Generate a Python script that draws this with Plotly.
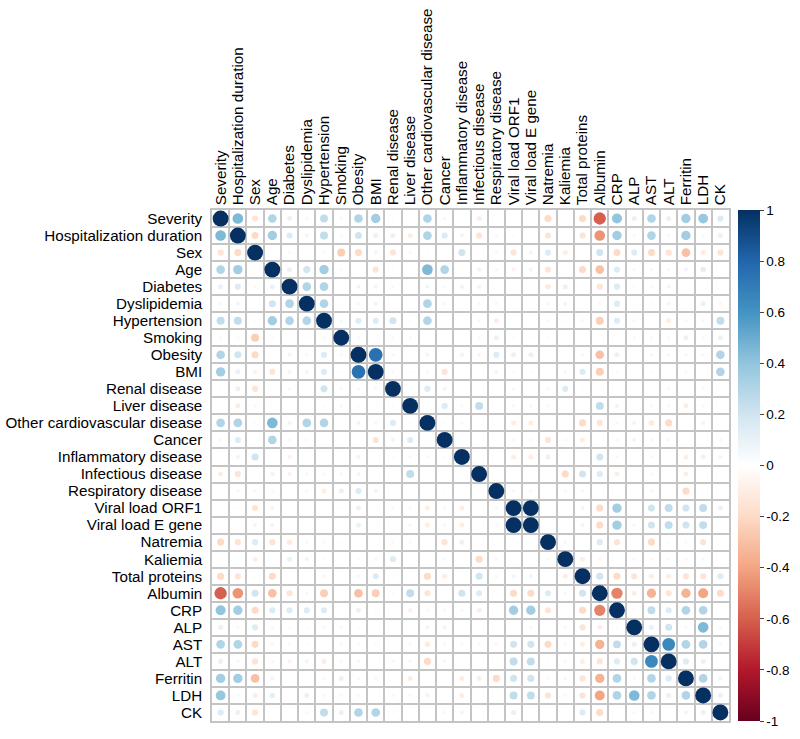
import numpy as np
import plotly.graph_objects as go

labels = ["Severity", "Hospitalization duration", "Sex", "Age", "Diabetes", "Dyslipidemia",
          "Hypertension", "Smoking", "Obesity", "BMI", "Renal disease", "Liver disease",
          "Other cardiovascular disease", "Cancer", "Inflammatory disease", "Infectious disease",
          "Respiratory disease", "Viral load ORF1", "Viral load E gene", "Natremia", "Kaliemia",
          "Total proteins", "Albumin", "CRP", "ALP", "AST", "ALT", "Ferritin", "LDH", "CK"]

# lower triangle of the correlation matrix (row i holds correlations with columns 0..i)
severity = [1.0]
hospitalization = [0.45, 1.0]
sex = [-0.15, -0.2, 1.0]
age = [0.3, 0.35, -0.02, 1.0]
diabetes = [0.1, 0.15, -0.05, 0.1, 1.0]
dyslipidemia = [0.05, 0.07, 0.0, 0.2, 0.3, 1.0]
hypertension = [0.25, 0.25, -0.04, 0.35, 0.3, 0.3, 1.0]
smoking = [0.05, 0.04, -0.25, -0.04, 0.02, 0.03, 0.05, 1.0]
obesity = [0.3, 0.2, -0.2, 0.02, 0.07, 0.05, 0.15, 0.05, 1.0]
bmi = [0.35, 0.1, -0.07, -0.15, 0.07, 0.07, 0.15, 0.03, 0.75, 1.0]
renal = [0.03, 0.1, -0.15, 0.03, 0.05, 0.0, 0.2, 0.05, 0.05, -0.05, 1.0]
liver = [0.02, -0.1, 0.05, 0.03, 0.0, 0.02, 0.03, 0.05, 0.03, 0.03, 0.03, 1.0]
other_cv = [0.3, 0.3, -0.03, 0.45, 0.07, 0.3, 0.3, 0.02, 0.07, 0.05, 0.15, -0.03, 1.0]
cancer = [0.05, 0.15, 0.0, 0.3, -0.05, 0.05, 0.0, 0.02, 0.0, -0.15, -0.07, 0.15, 0.03, 1.0]
inflammatory = [0.02, 0.07, 0.2, -0.02, -0.08, 0.0, 0.0, 0.0, -0.08, 0.0, 0.03, -0.05, -0.05,
                0.03, 1.0]
infectious = [-0.1, -0.15, 0.0, -0.08, -0.08, 0.05, 0.05, -0.05, -0.07, 0.0, 0.0, 0.25, 0.0,
              0.0, 0.0, 1.0]
respiratory = [0.0, -0.05, -0.05, -0.05, 0.02, 0.05, -0.1, 0.1, 0.15, 0.07, 0.02, 0.0, 0.0,
               -0.03, 0.0, 0.0, 1.0]
vl_orf1 = [0.0, -0.03, -0.15, -0.07, 0.0, 0.0, 0.0, 0.03, 0.1, 0.03, -0.05, 0.05, -0.1, -0.05,
           -0.1, 0.0, 0.05, 1.0]
vl_egene = [0.0, 0.02, -0.07, -0.07, 0.0, 0.0, 0.0, 0.03, 0.1, 0.03, 0.02, -0.05, -0.1, -0.05,
            -0.1, 0.0, 0.05, 1.0, 1.0]
natremia = [-0.2, -0.15, 0.15, -0.15, -0.12, -0.05, -0.05, 0.03, 0.0, 0.0, 0.05, -0.05, 0.0,
            -0.15, 0.1, 0.0, 0.0, 0.0, 0.0, 1.0]
kaliemia = [0.0, 0.0, -0.1, 0.0, 0.1, 0.07, 0.03, 0.0, 0.03, 0.05, 0.15, 0.0, 0.0, 0.05, 0.0,
            -0.2, 0.05, 0.0, 0.0, 0.05, 1.0]
total_proteins = [-0.2, -0.15, 0.0, -0.2, 0.0, 0.0, -0.05, 0.0, 0.05, 0.15, 0.03, 0.0, -0.2,
                  -0.1, 0.0, 0.2, 0.05, 0.07, 0.07, 0.0, -0.1, 1.0]
albumin = [-0.6, -0.45, 0.2, -0.3, -0.15, -0.05, -0.25, 0.0, -0.3, -0.25, 0.03, 0.25, -0.15,
           0.0, 0.2, 0.15, 0.0, -0.2, -0.2, 0.15, -0.05, 0.2, 1.0]
crp = [0.4, 0.35, -0.2, 0.15, 0.15, 0.15, 0.15, 0.0, 0.1, 0.03, 0.0, -0.08, -0.05, 0.05, -0.05,
       -0.1, 0.0, 0.35, 0.35, -0.15, 0.0, -0.2, -0.5, 1.0]
alp = [0.1, -0.05, 0.15, 0.05, 0.03, 0.03, -0.05, -0.05, -0.03, 0.0, 0.0, 0.0, 0.07, 0.07, 0.0,
       0.0, -0.03, 0.0, 0.05, 0.0, 0.05, -0.15, -0.1, 0.03, 1.0]
ast = [0.3, 0.3, -0.2, 0.05, -0.05, 0.03, 0.0, 0.05, 0.05, 0.03, 0.0, -0.05, -0.12, 0.05, -0.05,
       -0.05, -0.05, 0.2, 0.2, -0.2, -0.05, -0.1, -0.35, 0.25, 0.1, 1.0]
alt = [0.1, 0.05, -0.15, -0.05, -0.07, -0.07, -0.1, 0.05, -0.05, 0.0, -0.05, -0.05, -0.2, 0.05,
       0.0, 0.0, 0.0, 0.25, 0.25, 0.03, -0.05, -0.1, -0.15, 0.15, 0.2, 0.65, 1.0]
ferritin = [0.35, 0.35, -0.3, 0.07, 0.0, 0.0, 0.05, 0.1, -0.05, -0.05, 0.0, -0.1, 0.0, 0.02,
            -0.1, -0.1, -0.2, 0.2, 0.2, -0.05, -0.05, -0.15, -0.35, 0.3, -0.05, 0.3, 0.15, 1.0]
ldh = [0.38, 0.05, -0.1, 0.12, 0.0, 0.1, 0.05, 0.05, 0.05, 0.0, 0.05, 0.05, 0.07, 0.0, -0.1,
       0.0, 0.0, 0.25, 0.25, -0.15, 0.05, -0.15, -0.4, 0.3, 0.45, 0.3, 0.1, 0.3, 1.0]
ck = [0.15, 0.1, -0.15, 0.0, 0.0, -0.05, 0.25, 0.1, 0.3, 0.3, 0.03, 0.0, 0.02, -0.05, -0.07,
      0.0, 0.03, 0.1, 0.02, 0.02, 0.0, 0.15, -0.2, 0.0, -0.05, 0.05, 0.02, 0.07, 0.1, 1.0]

lower = [severity, hospitalization, sex, age, diabetes, dyslipidemia, hypertension, smoking,
         obesity, bmi, renal, liver, other_cv, cancer, inflammatory, infectious, respiratory,
         vl_orf1, vl_egene, natremia, kaliemia, total_proteins, albumin, crp, alp, ast, alt,
         ferritin, ldh, ck]

cbar_vals = [1, 0.8, 0.6, 0.4, 0.2, 0, -0.2, -0.4, -0.6, -0.8, -1]
cbar_text = ["1", "0.8", "0.6", "0.4", "0.2", "0", "-0.2", "-0.4", "-0.6", "-0.8", "-1"]

n = len(labels)
M = np.zeros((n, n))
for i, row in enumerate(lower):
    for j, v in enumerate(row):
        M[i, j] = v
        M[j, i] = v

xs, ys, vals = [], [], []
for i in range(n):
    for j in range(n):
        xs.append(j)
        ys.append(i)
        vals.append(M[i, j])
vals = np.array(vals)

W, H = 800, 739
left, top, right, bottom = 212, 209.5, 729.5, 721.5
cell = (right - left) / n
sizes = 0.92 * cell * np.sqrt(np.abs(vals))

rdbu = [[0.0, "#67001F"], [0.1, "#B2182B"], [0.2, "#D6604D"], [0.3, "#F4A582"],
        [0.4, "#FDDBC7"], [0.5, "#FFFFFF"], [0.6, "#D1E5F0"], [0.7, "#92C5DE"],
        [0.8, "#4393C3"], [0.9, "#2166AC"], [1.0, "#053061"]]

font_family = "Liberation Sans, Arial, sans-serif"
gridc = "#C4C4C4"
plot_w = right - left
cb_x = (739 - left) / plot_w

fig = go.Figure(go.Scatter(
    x=xs, y=ys, mode="markers",
    marker=dict(size=sizes, color=vals, colorscale=rdbu, cmin=-1, cmax=1,
                line=dict(width=0), opacity=1,
                colorbar=dict(thickness=22, lenmode="fraction", len=1.0,
                              xref="paper", x=cb_x, xanchor="left",
                              yref="paper", y=1.0, yanchor="top",
                              xpad=0, ypad=0, outlinewidth=0,
                              tickmode="array", tickvals=cbar_vals, ticktext=cbar_text,
                              ticks="outside", ticklen=4, tickcolor="#444",
                              tickfont=dict(family=font_family, size=13.5, color="black"))),
    hoverinfo="skip", showlegend=False))

grid_pos = [k - 0.5 for k in range(n + 1)]
common = dict(tickmode="array", tickvals=list(range(n)), ticktext=labels,
              showgrid=False, zeroline=False, ticks="",
              showline=True, mirror=True, linecolor=gridc, linewidth=1.5,
              minor=dict(tickmode="array", tickvals=grid_pos, showgrid=True,
                         gridcolor=gridc, gridwidth=1.5, ticks=""),
              tickfont=dict(family=font_family, size=15.2, color="black"),
              fixedrange=True)

fig.update_xaxes(range=[-0.5, n - 0.5], side="top", tickangle=-90, **common)
fig.update_yaxes(range=[n - 0.5, -0.5], ticklabelstandoff=5, **common)

fig.update_layout(width=W, height=H, plot_bgcolor="white", paper_bgcolor="white",
                  margin=dict(l=left, r=W - right, t=top, b=H - bottom, autoexpand=False))

# remove the default 8px page margin so the figure fills the 800x739 window exactly
fig.write_html("out.html", config={"displayModeBar": False},
               post_script="document.body.style.margin='0px';")
